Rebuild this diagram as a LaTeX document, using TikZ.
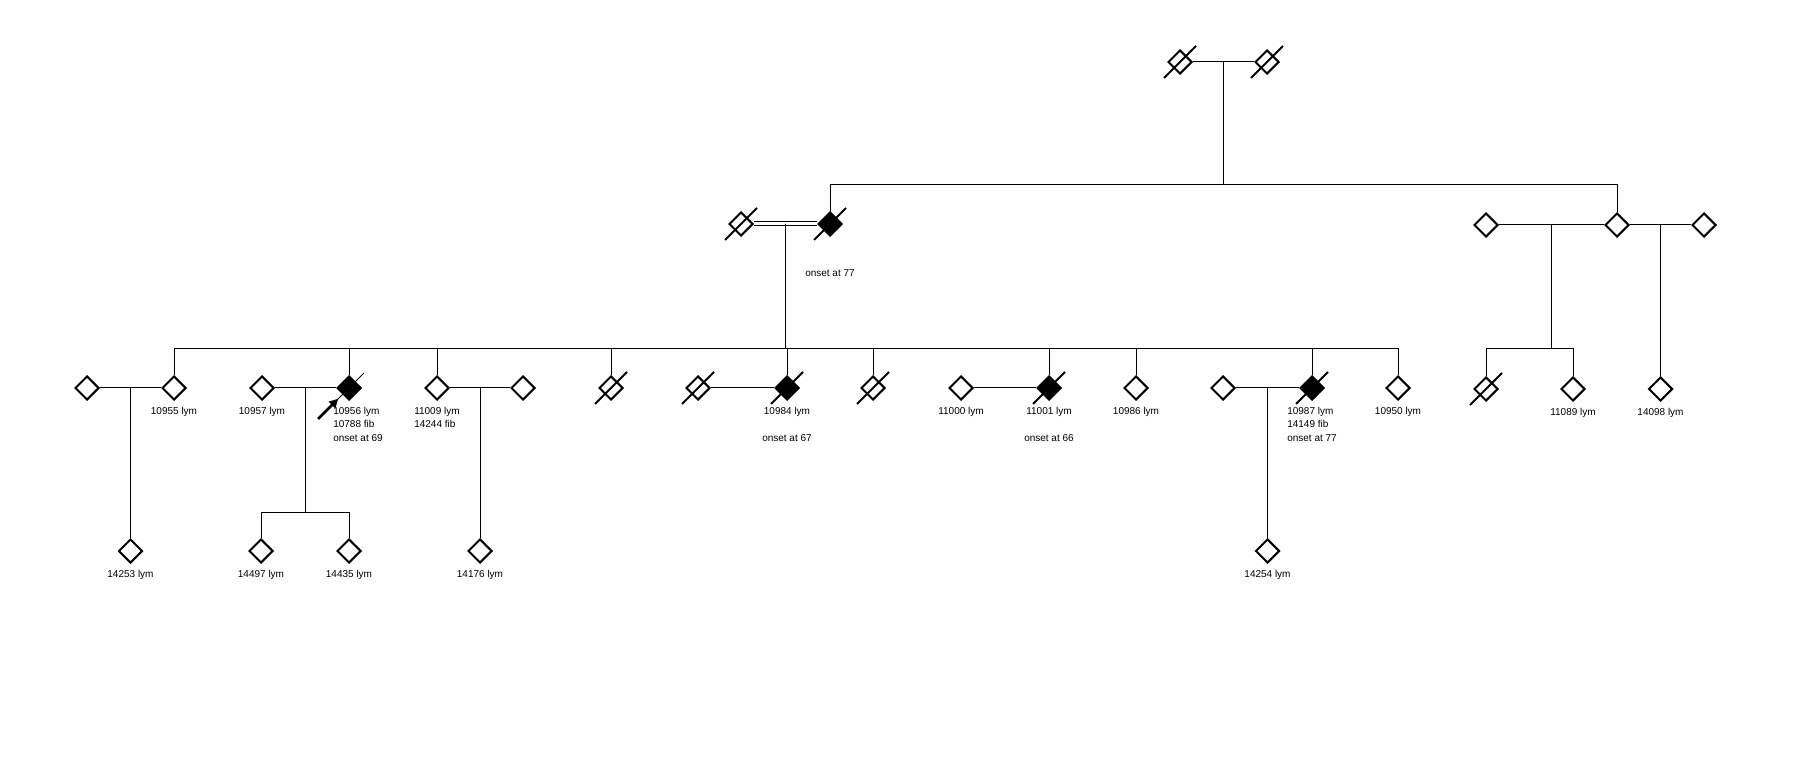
\documentclass[tikz,border=0pt]{standalone}
\usepackage{fontspec}
\setmainfont{Liberation Sans}
\usetikzlibrary{arrows.meta,positioning,shapes.geometric,calc}
\newcommand{\deceased}[1]{\draw[slash] ([shift={(-16,16)}]#1.center) -- ([shift={(16,-16)}]#1.center);}

\begin{document}
\begin{tikzpicture}[x=1pt, y=-1pt, font=\fontsize{10}{13.5}\selectfont,
  ind/.style={diamond, draw, line width=2pt, minimum size=24pt, inner sep=0pt, fill=white},
  aff/.style={ind, fill=black},
  lbl/.style={inner sep=0pt, align=center, below=6pt of #1},
  rel/.style={line width=1pt},
  slash/.style={line width=2pt}]
  \useasboundingbox (0,0) rectangle (1800,767);
  % generation I
  \node[ind] (i1) at (1180,62) {};
  \node[ind] (i2) at (1267,62) {};
  % generation II
  \node[ind] (ii1) at (741,224) {};
  \node[aff] (ii2) at (830,224) {};
  \node[ind] (ii3) at (1486,225) {};
  \node[ind] (ii4) at (1617,225) {};
  \node[ind] (ii5) at (1704,225) {};
  % generation III
  \node[ind] (iii1) at (87,388) {};
  \node[ind] (iii2) at (174,388) {};
  \node[ind] (iii3) at (262,388) {};
  \node[aff] (iii4) at (349,388) {};
  \node[ind] (iii5) at (437,388) {};
  \node[ind] (iii6) at (523,388) {};
  \node[ind] (iii7) at (611,388) {};
  \node[ind] (iii8) at (698,388) {};
  \node[aff] (iii9) at (787,388) {};
  \node[ind] (iii10) at (873,388) {};
  \node[ind] (iii11) at (961,388) {};
  \node[aff] (iii12) at (1049,388) {};
  \node[ind] (iii13) at (1136,388) {};
  \node[ind] (iii14) at (1223,388) {};
  \node[aff] (iii15) at (1312,388) {};
  \node[ind] (iii16) at (1398,388) {};
  \node[ind] (iii17) at (1486,389) {};
  \node[ind] (iii18) at (1573,389) {};
  \node[ind] (iii19) at (1660.5,389) {};
  % generation IV
  \node[ind] (iv1) at (130.5,551) {};
  \node[ind] (iv2) at (261,551) {};
  \node[ind] (iv3) at (349,551) {};
  \node[ind] (iv4) at (480,551) {};
  \node[ind] (iv5) at (1267.5,551) {};

  % couples and sibships
  \draw[rel] (i1) -- (i2);
  \coordinate (m1) at ($(i1)!0.5!(i2)$);
  \foreach \c in {ii2,ii4} \draw[rel] (m1) -- ++(0,123) -| (\c);
  \draw[rel, double, double distance=3pt] (ii1) -- (ii2);
  \coordinate (m2) at ($(ii1)!0.5!(ii2)$);
  \foreach \c in {iii2,iii4,iii5,iii7,iii9,iii10,iii12,iii13,iii15,iii16}
    \draw[rel] (m2) -- ++(0,125) -| (\c);
  \draw[rel] (ii3) -- (ii4);
  \coordinate (m3) at ($(ii3)!0.5!(ii4)$);
  \foreach \c in {iii17,iii18} \draw[rel] (m3) -- ++(0,124) -| (\c);
  \draw[rel] (ii4) -- (ii5);
  \coordinate (m4) at ($(ii4)!0.5!(ii5)$);
  \draw[rel] (m4) -- (iii19);
  \draw[rel] (iii1) -- (iii2);
  \coordinate (m5) at ($(iii1)!0.5!(iii2)$);
  \draw[rel] (m5) -- (iv1);
  \draw[rel] (iii3) -- (iii4);
  \coordinate (m6) at ($(iii3)!0.5!(iii4)$);
  \foreach \c in {iv2,iv3} \draw[rel] (m6) -- ++(0,124) -| (\c);
  \draw[rel] (iii5) -- (iii6);
  \coordinate (m7) at ($(iii5)!0.5!(iii6)$);
  \draw[rel] (m7) -- (iv4);
  \draw[rel] (iii8) -- (iii9);
  \draw[rel] (iii11) -- (iii12);
  \draw[rel] (iii14) -- (iii15);
  \coordinate (m8) at ($(iii14)!0.5!(iii15)$);
  \draw[rel] (m8) -- (iv5);

  % deceased
  \foreach \n in {i1,i2,ii1,ii2,iii7,iii8,iii9,iii10,iii12,iii15,iii17} \deceased{\n};
  \draw[rel] ([shift={(-15,15)}]iii4.center) -- ([shift={(15,-15)}]iii4.center);
  % proband
  \coordinate (pa) at (318,419);
  \draw[-{Triangle[length=9pt,width=9pt]}, line width=2.5pt, shorten >=6pt] (pa) -- (iii4);

  % labels
  \node[lbl=ii2, below=32pt of ii2] (t1) {onset at 77};
  \node[lbl=iii2] (t2) {10955 lym};
  \node[lbl=iii3] (t3) {10957 lym};
  \node[lbl=iii4, xshift=9pt, align=left] (t4) {10956 lym\\10788 fib\\onset at 69};
  \node[lbl=iii5, align=left] (t5) {11009 lym\\14244 fib};
  \node[lbl=iii9] (t6) {10984 lym\\[13.5pt]onset at 67};
  \node[lbl=iii11] (t7) {11000 lym};
  \node[lbl=iii12] (t8) {11001 lym\\[13.5pt]onset at 66};
  \node[lbl=iii13] (t9) {10986 lym};
  \node[lbl=iii15, align=left] (t10) {10987 lym\\14149 fib\\onset at 77};
  \node[lbl=iii16] (t11) {10950 lym};
  \node[lbl=iii18] (t12) {11089 lym};
  \node[lbl=iii19] (t13) {14098 lym};
  \node[lbl=iv1] (t14) {14253 lym};
  \node[lbl=iv2] (t15) {14497 lym};
  \node[lbl=iv3] (t16) {14435 lym};
  \node[lbl=iv4] (t17) {14176 lym};
  \node[lbl=iv5] (t18) {14254 lym};
\end{tikzpicture}
\end{document}
